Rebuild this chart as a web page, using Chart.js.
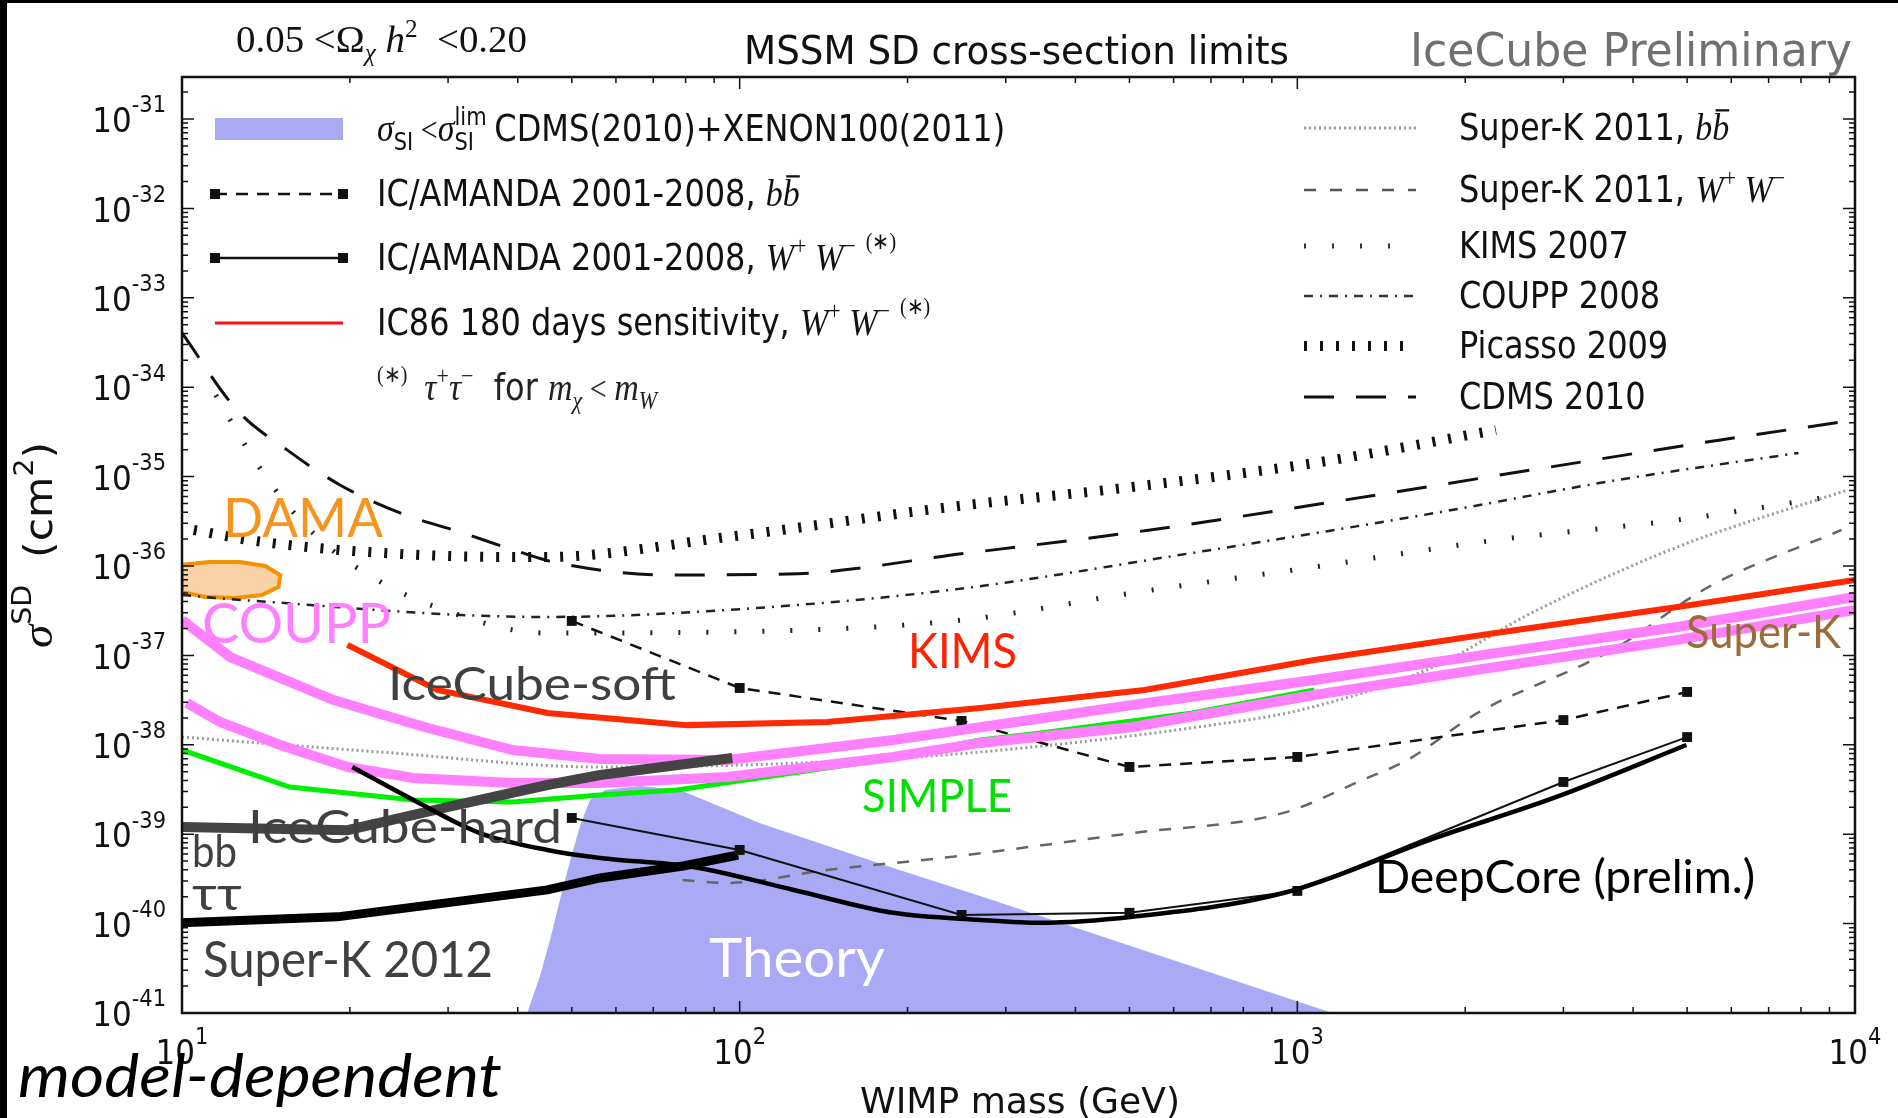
<!DOCTYPE html>
<html>
<head>
<meta charset="utf-8">
<script src="https://cdn.jsdelivr.net/npm/chart.js@4.4.1/dist/chart.umd.min.js"></script>
<style>
html, body { margin: 0; padding: 0; background: #fff; overflow: hidden; }
canvas { display: block; }
</style>
</head>
<body>
<canvas id="myChart" width="1898" height="1118"></canvas>
<script>
// values: WIMP mass in GeV, SD cross-section in cm^2

const xTickExp = [1, 2, 3, 4];
const yTickExp = [-41, -40, -39, -38, -37, -36, -35, -34, -33, -32, -31];

const theoryMass  = [41.6, 43.9, 45.7, 47.6, 49.7, 51.8, 53.9, 57.4, 66.3, 78.2, 108.8, 188.5, 270, 1156];
const theorySigma = [1e-41, 2.66e-41, 6.56e-41, 1.84e-40, 5.14e-40, 1.27e-39, 2.41e-39, 3.12e-39, 3.46e-39, 3.12e-39, 1.33e-39, 4.19e-40, 2.04e-40, 1e-41];

const cdmsMass  = [10, 12.55, 15.43, 19.2, 24.6, 31.5, 40.4, 47.2, 74.1, 122, 257, 545, 1155, 2640, 5740, 10000];
const cdmsSigma = [4.04e-34, 5.56e-35, 1.99e-35, 8.06e-36, 3.92e-36, 2.40e-36, 1.43e-36, 1.08e-36, 7.94e-37, 8.13e-37, 1.40e-36, 2.53e-36, 5.20e-36, 1.19e-35, 2.57e-35, 4.30e-35];

const picassoMass  = [10.5, 13.2, 17.5, 22.9, 30.3, 44.8, 95, 239, 506, 1072, 2270];
const picassoSigma = [2.53e-36, 1.95e-36, 1.59e-36, 1.40e-36, 1.29e-36, 1.26e-36, 2.11e-36, 4.57e-36, 7.66e-36, 1.42e-35, 3.32e-35];

const kimsMass  = [11.5, 12.0, 13.6, 15.6, 18.4, 22.4, 27.9, 44.8, 95, 251, 506, 1072, 2270, 4800, 9000];
const kimsSigma = [8.2e-35, 5.14e-35, 1.42e-35, 4.46e-36, 1.59e-36, 6.97e-37, 3.66e-37, 1.78e-37, 1.83e-37, 2.49e-37, 4.99e-37, 9.75e-37, 1.95e-36, 3.27e-36, 5.92e-36];

const couppMass  = [10, 12.8, 44.8, 95, 239, 648, 1768, 3750, 7920];
const couppSigma = [4.74e-37, 4.17e-37, 2.69e-37, 3.22e-37, 5.40e-37, 1.40e-36, 3.92e-36, 9.16e-36, 1.84e-35];

const skBbMass  = [10, 22.7, 56.2, 128, 270, 701, 1013, 1753, 2650, 4800, 9700];
const skBbSigma = [1.22e-38, 8.30e-39, 5.65e-39, 6.25e-39, 8.30e-39, 1.66e-38, 2.45e-38, 7.41e-38, 3.06e-37, 1.63e-36, 7.08e-36];

const skWwMass  = [79, 95, 143.5, 238.5, 506, 944, 1308, 1575, 2120, 3300, 3750, 5460, 9460];
const skWwSigma = [3.08e-40, 2.85e-40, 3.98e-40, 5.56e-40, 1.03e-39, 1.73e-39, 4.04e-39, 6.76e-39, 2.33e-38, 8.22e-38, 1.24e-37, 5.82e-37, 2.53e-36];

const icMass    = [50, 100, 250, 500, 1000, 3000, 5000];
const icBbSigma = [2.43e-37, 4.32e-38, 1.85e-38, 5.65e-39, 7.31e-39, 1.89e-38, 3.90e-38];
const icWwSigma = [1.52e-39, 6.66e-40, 1.25e-40, 1.32e-40, 2.32e-40, 3.84e-39, 1.22e-38];

const deepCoreMass  = [20.2, 26, 34.2, 45.2, 56.2, 82.5, 125, 188.5, 270, 347, 506, 944, 1768, 2915, 4985];
const deepCoreSigma = [5.65e-39, 2.41e-39, 1.03e-39, 6.66e-40, 5.42e-40, 4.30e-40, 2.38e-40, 1.32e-40, 1.10e-40, 1.02e-40, 1.19e-40, 2.20e-40, 9.1e-40, 2.61e-39, 9.95e-39];

const sk2012Mass  = [10, 19, 45.2, 56.2, 79.2, 99.4];
const sk2012Sigma = [1.02e-40, 1.19e-40, 2.38e-40, 3.24e-40, 4.41e-40, 5.85e-40];

const icecubeMass  = [10, 19.8, 29.9, 45.2, 56.2, 97];
const icecubeSigma = [1.20e-39, 1.11e-39, 2.01e-39, 3.55e-39, 4.59e-39, 7.11e-39];

const kimsRedMass  = [19.8, 28.7, 45.2, 80.5, 143.5, 270, 532, 1072, 2266, 4805, 10000];
const kimsRedSigma = [1.31e-37, 4.10e-38, 2.27e-38, 1.66e-38, 1.80e-38, 2.58e-38, 4.10e-38, 8.88e-38, 1.78e-37, 3.48e-37, 6.97e-37];

const couppUpMass  = [10, 12.2, 18.7, 27.2, 39.2, 56.2, 95, 188.5, 506, 1072, 2266, 4805, 10000];
const couppUpSigma = [2.49e-37, 9.59e-38, 3.17e-38, 1.58e-38, 8.75e-39, 6.94e-39, 6.76e-39, 1.13e-38, 2.79e-38, 5.31e-38, 1.06e-37, 2.08e-37, 4.50e-37];

const couppLoMass  = [10.2, 11.7, 15, 19.8, 26, 39.2, 56.2, 95, 188.5, 270, 506, 1072, 2266, 4805, 10000];
const couppLoSigma = [2.94e-38, 1.80e-38, 9.95e-39, 5.65e-39, 4.25e-39, 3.74e-39, 3.74e-39, 4.36e-39, 7.31e-39, 1.05e-38, 1.58e-38, 3.61e-38, 7.41e-38, 1.49e-37, 3.22e-37];

const simpleMass  = [10, 15.6, 26, 39.2, 56.2, 77.3, 164.5, 270, 347, 648, 1072];
const simpleSigma = [8.75e-39, 3.37e-39, 2.41e-39, 2.29e-39, 2.74e-39, 3.12e-39, 6.25e-39, 1.13e-38, 1.36e-38, 2.27e-38, 4.10e-38];

const damaMass  = [10, 11.2, 12.7, 14.1, 15.0, 14.9, 13.9, 12.45, 11.0, 10, 10];
const damaSigma = [1.03e-36, 1.11e-36, 1.11e-36, 1.0e-36, 7.93e-37, 5.82e-37, 4.74e-37, 4.39e-37, 4.50e-37, 5.12e-37, 1.03e-36];


const SANS = '"DejaVu Sans", sans-serif';
const SERIF = '"Liberation Serif", serif';
const GILL = 'Lato, "Open Sans", sans-serif';

function pts(m, s) {
    return m.map((x, i) => ({ x: x, y: s[i] }));
}

function curve(m, s, color, width, dash, order, extra) {
    return Object.assign({
        data: pts(m, s),
        borderColor: color,
        borderWidth: width,
        borderDash: dash || [],
        pointRadius: 0,
        fill: false,
        tension: 0,
        order: order
    }, extra || {});
}

// draw a run of text pieces; o.w squeezes/stretches to a target width
function txt(ctx, parts, x, y, o) {
    o = o || {};
    ctx.save();
    ctx.translate(x, y);
    if (o.rot) ctx.rotate(o.rot);
    let w = 0;
    parts.forEach(p => {
        ctx.font = p.f;
        if (p.adv !== false) w += ctx.measureText(p.t).width;
    });
    let sx = o.w ? o.w / w : 1;
    ctx.scale(sx, o.sy || 1);
    let cx = 0;
    if (o.align === 'right') cx = -w;
    if (o.align === 'center') cx = -w / 2;
    parts.forEach(p => {
        ctx.font = p.f;
        ctx.fillStyle = p.c || o.color || '#111';
        ctx.fillText(p.t, cx, p.dy || 0);
        let pw = ctx.measureText(p.t).width;
        if (p.bar) {
            ctx.fillRect(cx + pw * 0.2, p.bar, pw * 0.8, 2);
        }
        if (p.adv !== false) cx += pw;
    });
    ctx.restore();
}

function seg(ctx, x1, x2, y, c, w, d) {
    ctx.save();
    ctx.strokeStyle = c;
    ctx.lineWidth = w;
    ctx.setLineDash(d || []);
    ctx.beginPath();
    ctx.moveTo(x1, y);
    ctx.lineTo(x2, y);
    ctx.stroke();
    ctx.restore();
}

const background = {
    id: 'background',
    beforeDraw(chart) {
        const ctx = chart.ctx;
        ctx.save();
        ctx.fillStyle = '#fff';
        ctx.fillRect(0, 0, chart.width, chart.height);
        ctx.fillStyle = '#000';
        ctx.fillRect(0, 0, 7, chart.height);
        ctx.fillRect(0, 0, chart.width, 3);
        ctx.restore();
    }
};

const frame = {
    id: 'frame',
    afterDatasetsDraw(chart) {
        const ctx = chart.ctx, a = chart.chartArea;
        const xs = chart.scales.x, ys = chart.scales.y;
        ctx.save();
        ctx.strokeStyle = '#111';
        ctx.lineWidth = 1.5;
        ctx.beginPath();
        for (let e = 1; e <= 4; e++) {
            for (let k = 1; k <= 9; k++) {
                const v = k * Math.pow(10, e);
                if (v > 10000) break;
                const px = xs.getPixelForValue(v);
                const L = k === 1 ? 12 : 6;
                ctx.moveTo(px, a.bottom); ctx.lineTo(px, a.bottom - L);
                ctx.moveTo(px, a.top); ctx.lineTo(px, a.top + L);
            }
        }
        for (let e = -41; e <= -31; e++) {
            for (let k = 1; k <= 9; k++) {
                const v = k * Math.pow(10, e);
                if (v > ys.max) break;
                const py = ys.getPixelForValue(v);
                const L = k === 1 ? 12 : 6;
                ctx.moveTo(a.left, py); ctx.lineTo(a.left + L, py);
                ctx.moveTo(a.right, py); ctx.lineTo(a.right - L, py);
            }
        }
        ctx.stroke();
        ctx.lineWidth = 2.5;
        ctx.strokeRect(a.left, a.top, a.right - a.left, a.bottom - a.top);
        ctx.restore();

        // tick labels
        const big = '31px ' + SANS, small = '21px ' + SANS;
        yTickExp.forEach(e => {
            const py = ys.getPixelForValue(Math.pow(10, e));
            txt(ctx, [{ t: '10', f: big, dy: 12 }, { t: String(e), f: small, dy: -6 }], 166, py, { align: 'right', sy: 1.1 });
        });
        xTickExp.forEach(e => {
            const px = xs.getPixelForValue(Math.pow(10, e));
            txt(ctx, [{ t: '10', f: big }, { t: String(e), f: small, dy: -18 }], px, 1064, { align: 'center', sy: 1.1 });
        });
    }
};

const notes = {
    id: 'notes',
    afterDraw(chart) {
        const ctx = chart.ctx;
        const sans = '32px ' + SANS;
        const mi = 'italic 34px ' + SERIF;
        const sub = '21px ' + SANS;
        const msup = '22px ' + SERIF;
        const star = '20px ' + SERIF;
        const sy = 1.14;

        // titles
        txt(ctx, [
            { t: '0.05 <', f: '34px ' + SERIF },
            { t: 'Ω', f: '34px ' + SERIF },
            { t: 'χ', f: 'italic 22px ' + SERIF, dy: 8 },
            { t: ' h', f: mi },
            { t: '2', f: msup, dy: -14 },
            { t: '  <0.20', f: '34px ' + SERIF }
        ], 236, 52, { w: 291, sy: 1.1 });
        txt(ctx, [{ t: 'MSSM SD cross-section limits', f: '36px ' + SANS }], 744, 64, { w: 545, sy: 1.08 });
        txt(ctx, [{ t: 'IceCube Preliminary', f: '42px ' + SANS }], 1410, 66, { w: 442, sy: 1.1, color: '#707070' });

        // axis titles
        txt(ctx, [{ t: 'WIMP mass (GeV)', f: '33px ' + SANS }], 860, 1113, { w: 320, sy: 1.1 });
        txt(ctx, [
            { t: 'σ', f: 'italic 40px ' + SERIF },
            { t: 'SD', f: '24px ' + SANS, dy: -19 },
            { t: '  (cm', f: '36px ' + SANS },
            { t: '2', f: '24px ' + SANS, dy: -17 },
            { t: ')', f: '36px ' + SANS }
        ], 52, 545, { rot: -Math.PI / 2, align: 'center', sy: 1.1, w: 206 });

        // left legend
        const L1 = 215, L2 = 343, LT = 377;
        const lrow = [129, 194, 258, 323, 388];
        ctx.save();
        ctx.fillStyle = 'rgba(140,140,240,0.75)';
        ctx.fillRect(L1, lrow[0] - 11, L2 - L1, 22);
        ctx.restore();
        seg(ctx, L1, L2, lrow[1], '#111', 2.5, [12, 9]);
        seg(ctx, L1, L2, lrow[2], '#111', 2.5);
        ctx.fillStyle = '#111';
        [lrow[1], lrow[2]].forEach(y => {
            ctx.fillRect(L1 - 5, y - 5, 10, 10);
            ctx.fillRect(L2 - 5, y - 5, 10, 10);
        });
        seg(ctx, L1, L2, lrow[3], '#ff1010', 3);

        const sig = [
            { t: 'σ', f: mi }, { t: 'SI', f: sub, dy: 8 }, { t: ' <', f: '30px ' + SERIF },
            { t: 'σ', f: mi }, { t: 'lim', f: sub, dy: -14, adv: false }, { t: 'SI', f: sub, dy: 8 },
            { t: '  CDMS(2010)+XENON100(2011)', f: sans }
        ];
        const ww = [
            { t: 'W', f: mi }, { t: '+', f: msup, dy: -14 }, { t: ' W', f: mi }, { t: '−', f: msup, dy: -14 },
            { t: '  (∗)', f: star, dy: -18 }
        ];
        const bb = [{ t: 'b', f: mi }, { t: 'b', f: mi, bar: -27 }];
        const base = 12;
        txt(ctx, sig, LT, lrow[0] + base, { sy: sy });
        txt(ctx, [{ t: 'IC/AMANDA 2001-2008, ', f: sans }].concat(bb), LT, lrow[1] + base, { sy: sy });
        txt(ctx, [{ t: 'IC/AMANDA 2001-2008, ', f: sans }].concat(ww), LT, lrow[2] + base, { sy: sy });
        txt(ctx, [{ t: 'IC86 180 days sensitivity, ', f: sans }].concat(ww), LT, lrow[3] + base, { sy: sy });
        txt(ctx, [
            { t: '(∗)', f: star, dy: -16 }, { t: '  τ', f: mi }, { t: '+', f: msup, dy: -14 },
            { t: 'τ', f: mi }, { t: '−', f: msup, dy: -14 }, { t: '  for ', f: sans },
            { t: 'm', f: mi }, { t: 'χ', f: 'italic 22px ' + SERIF, dy: 8 }, { t: ' < ', f: '30px ' + SERIF },
            { t: 'm', f: mi }, { t: 'W', f: 'italic 22px ' + SERIF, dy: 8 }
        ], LT, lrow[4] + base, { sy: sy, color: '#222' });

        // right legend
        const R1 = 1304, R2 = 1416, RT = 1459;
        const rrow = [128, 190, 246, 296, 346, 397];
        seg(ctx, R1, R2, rrow[0], '#9a9a9a', 3, [2, 3]);
        seg(ctx, R1, R2, rrow[1], '#555', 2.5, [12, 14]);
        seg(ctx, R1, R2, rrow[2], '#333', 5, [2, 26]);
        seg(ctx, R1, R2, rrow[3], '#333', 2.5, [9, 7, 2, 7]);
        seg(ctx, R1, R2, rrow[4], '#111', 10, [3, 13]);
        seg(ctx, R1, R2, rrow[5], '#111', 3, [30, 22]);
        txt(ctx, [{ t: 'Super-K 2011, ', f: sans }].concat(bb), RT, rrow[0] + base, { sy: sy });
        txt(ctx, [{ t: 'Super-K 2011, ', f: sans }].concat(ww.slice(0, 4)), RT, rrow[1] + base, { sy: sy });
        txt(ctx, [{ t: 'KIMS 2007', f: sans }], RT, rrow[2] + base, { sy: sy });
        txt(ctx, [{ t: 'COUPP 2008', f: sans }], RT, rrow[3] + base, { sy: sy });
        txt(ctx, [{ t: 'Picasso 2009', f: sans }], RT, rrow[4] + base, { sy: sy });
        txt(ctx, [{ t: 'CDMS 2010', f: sans }], RT, rrow[5] + base, { sy: sy });

        // slide annotations
        const labels = [
            ['DAMA', 223, 537, 54, '#f7941d', 160],
            ['COUPP', 202, 643, 56, '#ff80ff', 189],
            ['KIMS', 908, 668, 48, '#ff2200', 109],
            ['IceCube-soft', 388, 700, 46, '#404040', 288],
            ['IceCube-hard', 248, 843, 46, '#404040', 314],
            ['bb', 192, 867, 44, '#404040', 45],
            ['ττ', 192, 910, 46, '#404040', 50],
            ['Super-K 2012', 203, 977, 51, '#404040', 290],
            ['Theory', 709, 977, 55, '#ffffff', 176],
            ['SIMPLE', 862, 812, 47, '#00e000', 150],
            ['Super-K', 1686, 648, 46, '#9c6b3a', 155],
            ['DeepCore (prelim.)', 1375, 893, 46, '#000000', 380]
        ];
        labels.forEach(l => {
            txt(ctx, [{ t: l[0], f: l[3] + 'px ' + GILL }], l[1], l[2], { w: l[5], color: l[4] });
        });
        txt(ctx, [{ t: 'model-dependent', f: 'italic 61px ' + GILL }], 18, 1097, { w: 484, color: '#000' });
    }
};

const data = {
    datasets: [
        curve(deepCoreMass, deepCoreSigma, '#000', 4.5, [], 1, { cubicInterpolationMode: 'monotone' }),
        curve(icMass, icWwSigma, '#111', 2, [], 2, { pointRadius: 7, pointStyle: 'rect', pointBackgroundColor: '#111', pointBorderWidth: 0 }),
        curve(sk2012Mass, sk2012Sigma, '#000', 9, [], 3),
        curve(icecubeMass, icecubeSigma, '#444', 10, [], 4),
        curve(kimsRedMass, kimsRedSigma, '#ff2a00', 6, [], 5),
        curve(couppUpMass, couppUpSigma, '#ff80ff', 10, [], 6),
        curve(couppLoMass, couppLoSigma, '#ff80ff', 10, [], 7),
        curve(simpleMass, simpleSigma, '#00ee00', 5, [], 8),
        curve(icMass, icBbSigma, '#111', 2.5, [12, 9], 9, { pointRadius: 7, pointStyle: 'rect', pointBackgroundColor: '#111', pointBorderWidth: 0 }),
        curve(skWwMass, skWwSigma, '#666', 2.5, [12, 12], 10, { cubicInterpolationMode: 'monotone' }),
        curve(skBbMass, skBbSigma, '#9a9a9a', 3, [2, 3], 11, { cubicInterpolationMode: 'monotone' }),
        curve(kimsMass, kimsSigma, '#222', 5, [2, 26], 12, { cubicInterpolationMode: 'monotone' }),
        curve(couppMass, couppSigma, '#222', 2.5, [9, 7, 2, 7], 13, { cubicInterpolationMode: 'monotone' }),
        curve(picassoMass, picassoSigma, '#111', 10, [3, 13], 14, { cubicInterpolationMode: 'monotone' }),
        curve(cdmsMass, cdmsSigma, '#111', 3, [30, 22], 15, { cubicInterpolationMode: 'monotone' }),
        curve(damaMass, damaSigma, '#f39200', 4, [], 16, { fill: 'shape', backgroundColor: '#f9d3a6' }),
        curve(theoryMass, theorySigma, 'rgba(0,0,0,0)', 0, [], 20, { fill: 'start', backgroundColor: '#a9a9f5' })
    ]
};

const config = {
    type: 'line',
    data: data,
    options: {
        responsive: false,
        animation: false,
        events: [],
        layout: { padding: { left: 182, right: 43, top: 77, bottom: 105 } },
        scales: {
            x: { type: 'logarithmic', min: 10, max: 10000, display: false },
            y: { type: 'logarithmic', min: 1e-41, max: 2.95e-31, display: false }
        },
        plugins: { legend: { display: false }, tooltip: { enabled: false } }
    },
    plugins: [background, frame, notes]
};

let ctxEl = document.getElementById('myChart');
var myChart = new Chart(ctxEl, config);
</script>
</body>
</html>
